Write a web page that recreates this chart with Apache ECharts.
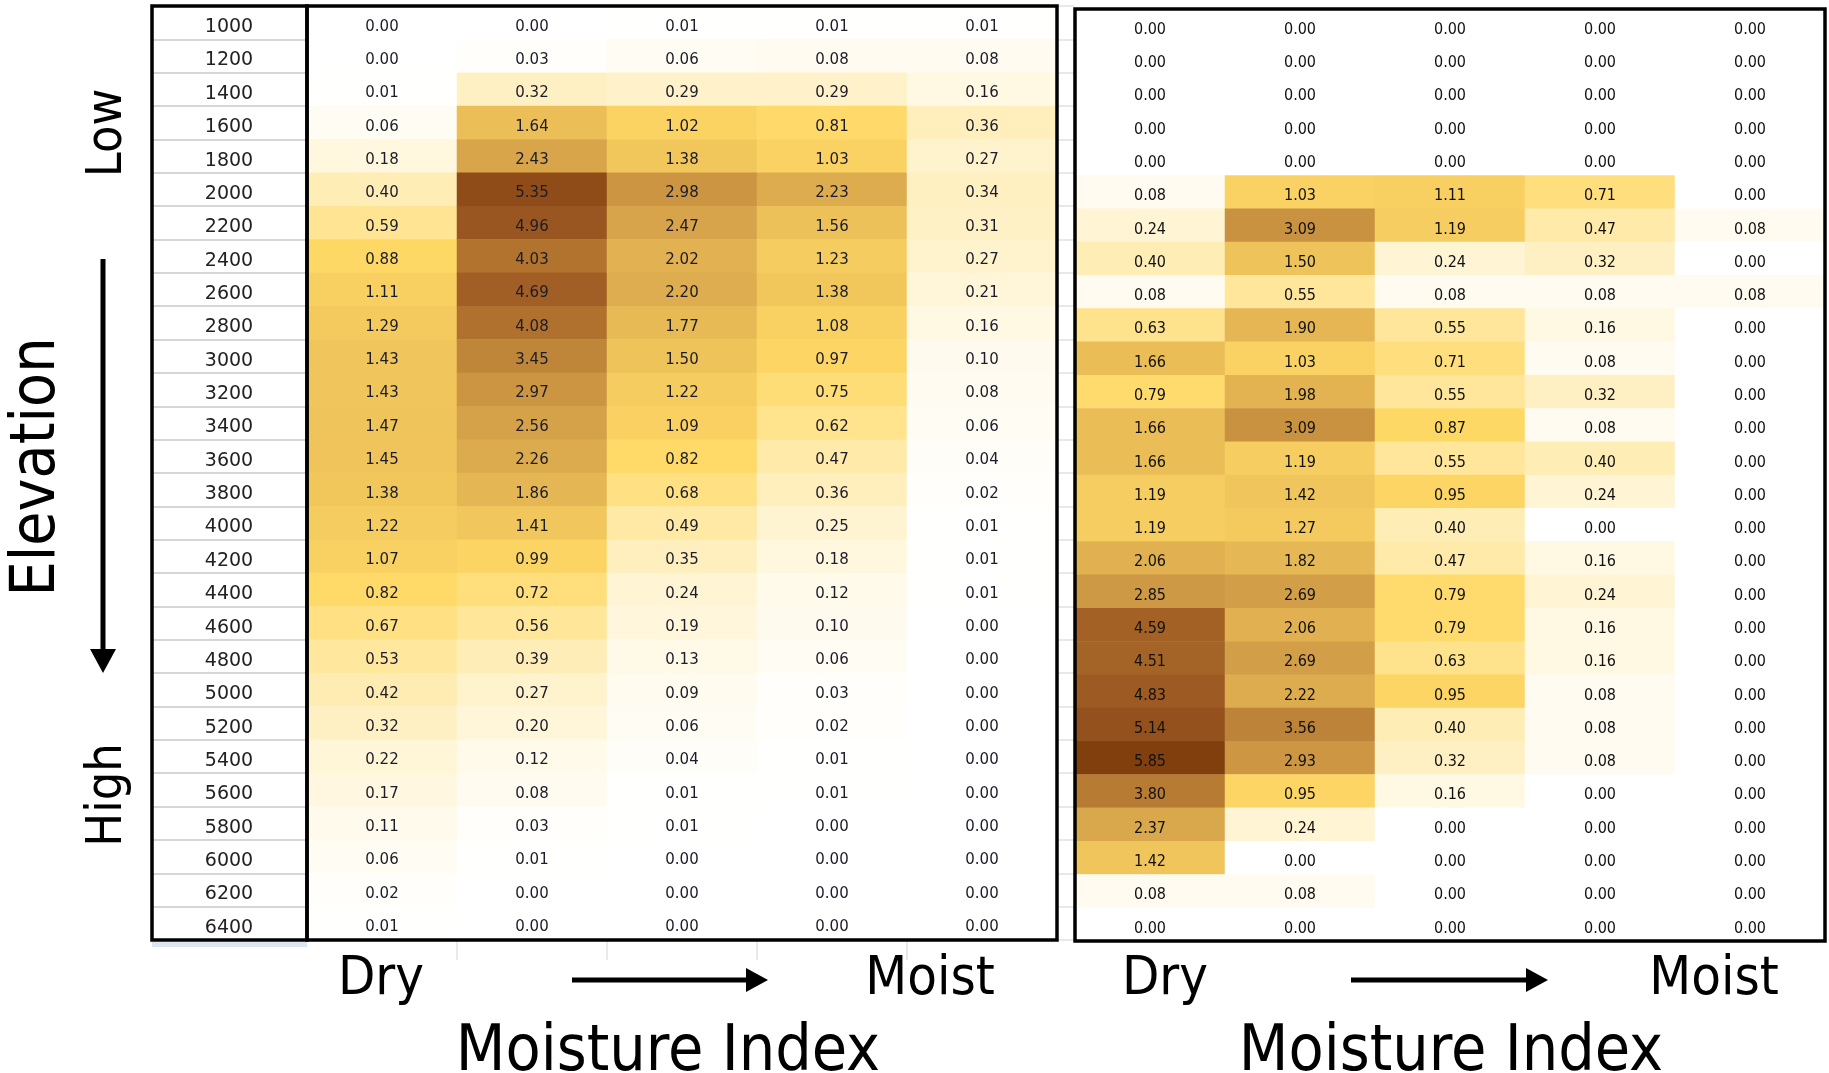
<!DOCTYPE html>
<html><head><meta charset="utf-8">
<script src="https://cdn.jsdelivr.net/npm/echarts@6/dist/echarts.min.js"></script>
<style>html,body{margin:0;padding:0;background:#fff;}#c{width:1829px;height:1073px;}</style>
</head><body><div id="c"></div>
<script>
// Elevation classes (rows, low at top)
const elevations = ['1000','1200','1400','1600','1800','2000','2200','2400','2600','2800','3000','3200','3400','3600','3800','4000','4200','4400','4600','4800','5000','5200','5400','5600','5800','6000','6200','6400'];
// Moisture classes (columns, dry -> moist)
const moistureClasses = ['M1','M2','M3','M4','M5'];

// Left panel, one array per moisture column (top to bottom)
const leftM1 = [0.00,0.00,0.01,0.06,0.18,0.40,0.59,0.88,1.11,1.29,1.43,1.43,1.47,1.45,1.38,1.22,1.07,0.82,0.67,0.53,0.42,0.32,0.22,0.17,0.11,0.06,0.02,0.01];
const leftM2 = [0.00,0.03,0.32,1.64,2.43,5.35,4.96,4.03,4.69,4.08,3.45,2.97,2.56,2.26,1.86,1.41,0.99,0.72,0.56,0.39,0.27,0.20,0.12,0.08,0.03,0.01,0.00,0.00];
const leftM3 = [0.01,0.06,0.29,1.02,1.38,2.98,2.47,2.02,2.20,1.77,1.50,1.22,1.09,0.82,0.68,0.49,0.35,0.24,0.19,0.13,0.09,0.06,0.04,0.01,0.01,0.00,0.00,0.00];
const leftM4 = [0.01,0.08,0.29,0.81,1.03,2.23,1.56,1.23,1.38,1.08,0.97,0.75,0.62,0.47,0.36,0.25,0.18,0.12,0.10,0.06,0.03,0.02,0.01,0.01,0.00,0.00,0.00,0.00];
const leftM5 = [0.01,0.08,0.16,0.36,0.27,0.34,0.31,0.27,0.21,0.16,0.10,0.08,0.06,0.04,0.02,0.01,0.01,0.01,0.00,0.00,0.00,0.00,0.00,0.00,0.00,0.00,0.00,0.00];

// Right panel, one array per moisture column (top to bottom)
const rightM1 = [0.00,0.00,0.00,0.00,0.00,0.08,0.24,0.40,0.08,0.63,1.66,0.79,1.66,1.66,1.19,1.19,2.06,2.85,4.59,4.51,4.83,5.14,5.85,3.80,2.37,1.42,0.08,0.00];
const rightM2 = [0.00,0.00,0.00,0.00,0.00,1.03,3.09,1.50,0.55,1.90,1.03,1.98,3.09,1.19,1.42,1.27,1.82,2.69,2.06,2.69,2.22,3.56,2.93,0.95,0.24,0.00,0.08,0.00];
const rightM3 = [0.00,0.00,0.00,0.00,0.00,1.11,1.19,0.24,0.08,0.55,0.71,0.55,0.87,0.55,0.95,0.40,0.47,0.79,0.79,0.63,0.95,0.40,0.32,0.16,0.00,0.00,0.00,0.00];
const rightM4 = [0.00,0.00,0.00,0.00,0.00,0.71,0.47,0.32,0.08,0.16,0.08,0.32,0.08,0.40,0.24,0.00,0.16,0.24,0.16,0.16,0.08,0.08,0.08,0.00,0.00,0.00,0.00,0.00];
const rightM5 = [0.00,0.00,0.00,0.00,0.00,0.00,0.08,0.00,0.08,0.00,0.00,0.00,0.00,0.00,0.00,0.00,0.00,0.00,0.00,0.00,0.00,0.00,0.00,0.00,0.00,0.00,0.00,0.00];

const xLabels = { dry: 'Dry', moist: 'Moist', title: 'Moisture Index' };
const yLabels = { low: 'Low', high: 'High', title: 'Elevation' };

function build(cols) {
  const d = [];
  cols.forEach((col, x) => col.forEach((v, y) => d.push([x, y, v])));
  return d;
}
const leftData = build([leftM1, leftM2, leftM3, leftM4, leftM5]);
const rightData = build([rightM1, rightM2, rightM3, rightM4, rightM5]);

const chart = echarts.init(document.getElementById('c'), null, { renderer: 'canvas' });
const FONT = "'DejaVu Sans Condensed', 'DejaVu Sans', sans-serif";
const BIG = "'DejaVu Sans Condensed', 'DejaVu Sans', sans-serif";

function hTextEl(text, x, y, size) {
  return { type: 'text', x: x, y: y, z: 100,
    style: { text: text, fill: '#000', font: size + 'px ' + BIG, align: 'center', verticalAlign: 'middle', textAlign: 'center', textVerticalAlign: 'middle' } };
}
function vTextEl(text, x, y, size) {
  return { type: 'text', x: x, y: y, rotation: Math.PI / 2, z: 100,
    style: { text: text, fill: '#000', font: size + 'px ' + BIG, align: 'center', verticalAlign: 'middle', textAlign: 'center', textVerticalAlign: 'middle' } };
}
function hArrow(x1, x2, y) {
  return [
    { type: 'line', z: 100, shape: { x1: x1, y1: y, x2: x2 - 18, y2: y }, style: { stroke: '#000', lineWidth: 5 } },
    { type: 'polygon', z: 100, shape: { points: [[x2, y], [x2 - 22, y - 12], [x2 - 22, y + 12]] }, style: { fill: '#000' } }
  ];
}

const graphics = [
  vTextEl(yLabels.title, 38, 467, 62),
  vTextEl(yLabels.low, 108, 133, 50),
  vTextEl(yLabels.high, 108, 795, 50),
  { type: 'line', z: 100, shape: { x1: 103, y1: 259, x2: 103, y2: 652 }, style: { stroke: '#000', lineWidth: 5 } },
  { type: 'polygon', z: 100, shape: { points: [[103, 673], [90, 649], [116, 649]] }, style: { fill: '#000' } },
  hTextEl(xLabels.dry, 381, 980, 54),
  hTextEl(xLabels.moist, 930, 980, 54),
  hTextEl(xLabels.title, 668, 1053, 64),
  hTextEl(xLabels.dry, 1165, 980, 54),
  hTextEl(xLabels.moist, 1714, 980, 54),
  hTextEl(xLabels.title, 1451, 1053, 64),
  ...hArrow(572, 768, 980),
  ...hArrow(1351, 1548, 980),
  { type: 'rect', z: 1, shape: { x: 152, y: 942, width: 155, height: 5 }, style: { fill: '#dce6f1' } }
];
[457, 607, 757, 907].forEach(x => graphics.push({ type: 'line', z: 1, shape: { x1: x, y1: 941, x2: x, y2: 960 }, style: { stroke: '#e3e3e3', lineWidth: 1.5 } }));

const option = {
  backgroundColor: '#fff',
  animation: false,
  grid: [
    { left: 307, top: 6, width: 750, height: 934, show: true, borderColor: '#000', borderWidth: 3.5, z: 10, backgroundColor: 'transparent' },
    { left: 152, top: 6, width: 155, height: 934, show: true, borderColor: '#000', borderWidth: 3.5, z: 10, backgroundColor: 'transparent' },
    { left: 1058, top: 6, width: 16, height: 934, show: false },
    { left: 1075, top: 9, width: 750, height: 932, show: true, borderColor: '#000', borderWidth: 3.5, z: 10, backgroundColor: 'transparent' }
  ],
  xAxis: [
    { gridIndex: 0, type: 'category', data: moistureClasses, show: false },
    { gridIndex: 1, type: 'category', data: ['label'], show: false },
    { gridIndex: 2, type: 'category', data: ['gap'], show: false },
    { gridIndex: 3, type: 'category', data: moistureClasses, show: false }
  ],
  yAxis: [
    { gridIndex: 0, type: 'category', data: elevations, inverse: true,
      axisLine: { show: false }, axisTick: { show: false }, splitLine: { show: false },
      axisLabel: { show: true, interval: 0, margin: 78, align: 'center', verticalAlign: 'middle',
        formatter: v => '{e|' + v + '}',
        rich: { e: { padding: [9, 0, 0, 0], fontSize: 19, fontFamily: "'DejaVu Sans', sans-serif", color: '#222' } },
        fontSize: 19, fontFamily: "'DejaVu Sans', sans-serif", color: '#222' } },
    { gridIndex: 1, type: 'category', data: elevations, inverse: true,
      axisLine: { show: false }, axisTick: { show: false }, axisLabel: { show: false },
      splitLine: { show: true, interval: 0, lineStyle: { color: '#d6d6d6', width: 2 } } },
    { gridIndex: 2, type: 'category', data: elevations, inverse: true,
      axisLine: { show: false }, axisTick: { show: false }, axisLabel: { show: false },
      splitLine: { show: true, interval: 0, lineStyle: { color: '#e0e0e0', width: 1.5 } } },
    { gridIndex: 3, type: 'category', data: elevations, inverse: true, show: false }
  ],
  visualMap: {
    type: 'continuous', show: false, min: 0, max: 5.85, dimension: 2, seriesIndex: [0, 1],
    inRange: { color: ['#FFFFFF', '#FFD966', '#EABD57', '#D6A34A', '#C28A3C', '#AE6E2C', '#985420', '#813F0E'] }
  },
  series: [
    { type: 'heatmap', xAxisIndex: 0, yAxisIndex: 0, data: leftData,
      emphasis: { disabled: true },
      label: { show: true, offset: [0, 4], formatter: p => p.value[2].toFixed(2), fontSize: 15, fontFamily: "'DejaVu Sans', sans-serif", color: '#1c1c2a' } },
    { type: 'heatmap', xAxisIndex: 3, yAxisIndex: 3, data: rightData,
      emphasis: { disabled: true },
      label: { show: true, offset: [0, 4], formatter: p => p.value[2].toFixed(2), fontSize: 16, fontFamily: FONT, color: '#111' } }
  ],
  graphic: graphics
};
chart.setOption(option);
</script>
</body></html>
